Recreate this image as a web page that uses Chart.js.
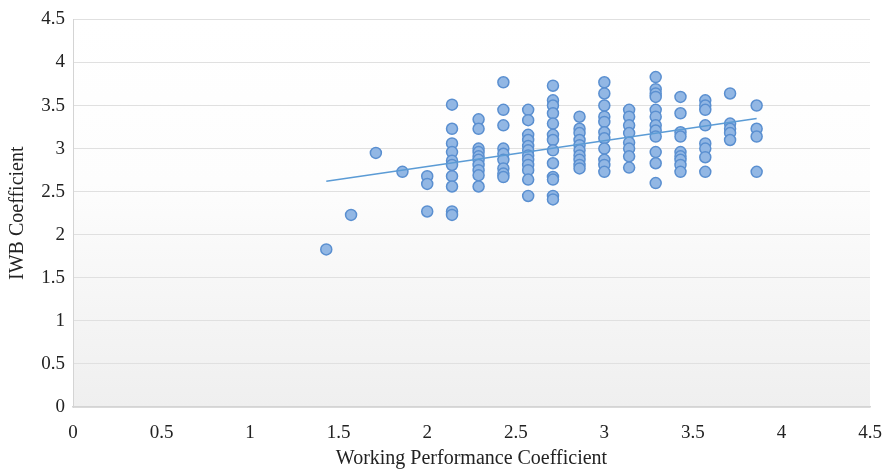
<!DOCTYPE html>
<html>
<head>
<meta charset="utf-8">
<script src="https://cdn.jsdelivr.net/npm/chart.js@4/dist/chart.umd.min.js"></script>
<style>
  html, body { margin: 0; padding: 0; background: #fff; }
  #wrap { width: 888px; height: 469px; position: relative; }
</style>
</head>
<body>
<div id="wrap"><canvas id="scatterChart"></canvas></div>
<script>
// x levels of Working Performance Coefficient (steps of 1/7)
const xLevels = [1.43, 1.57, 1.71, 1.86, 2.00, 2.14, 2.29, 2.43, 2.57, 2.71, 2.86, 3.00, 3.14, 3.29, 3.43, 3.57, 3.71, 3.86]
// IWB Coefficient values read for each x level
const iwbByLevel = [
    [1.83],
    [2.23],
    [2.95],
    [2.73],
    [2.68, 2.59, 2.27],
    [3.51, 3.23, 3.06, 2.96, 2.86, 2.81, 2.68, 2.56, 2.27, 2.23],
    [3.34, 3.23, 3.00, 2.96, 2.91, 2.87, 2.81, 2.75, 2.69, 2.56],
    [3.77, 3.45, 3.27, 3.00, 2.94, 2.87, 2.77, 2.71, 2.67],
    [3.45, 3.33, 3.16, 3.10, 3.03, 2.98, 2.92, 2.87, 2.81, 2.75, 2.64, 2.45],
    [3.73, 3.56, 3.50, 3.41, 3.29, 3.16, 3.10, 2.98, 2.83, 2.67, 2.64, 2.45, 2.41],
    [3.37, 3.23, 3.18, 3.10, 3.04, 2.98, 2.92, 2.87, 2.81, 2.77],
    [3.77, 3.64, 3.50, 3.37, 3.31, 3.19, 3.12, 3.00, 2.87, 2.81, 2.73],
    [3.45, 3.37, 3.27, 3.18, 3.07, 3.00, 2.91, 2.78],
    [3.83, 3.69, 3.64, 3.60, 3.45, 3.37, 3.27, 3.21, 3.14, 2.96, 2.83, 2.60],
    [3.60, 3.41, 3.19, 3.14, 2.96, 2.91, 2.87, 2.81, 2.73],
    [3.56, 3.50, 3.45, 3.27, 3.06, 3.00, 2.90, 2.73],
    [3.64, 3.29, 3.23, 3.18, 3.10],
    [3.50, 3.23, 3.14, 2.73]
]
// linear trendline end points
const trendX = [1.43, 3.86]
const trendY = [2.62, 3.35]

const points = []
xLevels.forEach((x, i) => {
    iwbByLevel[i].forEach(y => points.push({x: x, y: y}))
})
const trend = trendX.map((x, i) => ({x: x, y: trendY[i]}))

// gradient fill behind the plot area
const plotBackground = {
    id: 'plotBackground',
    beforeDraw(chart) {
        const {ctx, chartArea: a} = chart
        const g = ctx.createLinearGradient(0, a.top, 0, a.bottom)
        g.addColorStop(0, '#ffffff')
        g.addColorStop(0.42, '#fdfdfd')
        g.addColorStop(1, '#efefef')
        ctx.save()
        ctx.fillStyle = g
        ctx.fillRect(a.left, a.top, a.right - a.left, a.bottom - a.top)
        ctx.restore()
    }
}

const font = {family: "'Liberation Serif', 'Times New Roman', serif", size: 19}
const plainNumber = v => String(v)

new Chart(document.getElementById('scatterChart'), {
    type: 'scatter',
    data: {
        datasets: [{
            type: 'line',
            data: trend,
            borderColor: '#5b9bd5',
            borderWidth: 1.5,
            pointRadius: 0,
            fill: false
        }, {
            data: points,
            backgroundColor: 'rgb(146,183,228)',
            borderColor: '#5a8fd0',
            borderWidth: 1.5,
            pointRadius: 5.5
        }]
    },
    options: {
        responsive: true,
        maintainAspectRatio: false,
        animation: false,
        layout: {padding: {top: 18, right: 18, left: 0, bottom: 0}},
        plugins: {legend: {display: false}, tooltip: {enabled: false}},
        scales: {
            x: {
                type: 'linear',
                min: 0, max: 4.5,
                ticks: {stepSize: 0.5, color: '#222', font: font, padding: 4, callback: plainNumber},
                grid: {display: false, drawTicks: true, tickLength: 11},
                border: {display: true, color: '#d4d4d4', width: 1.5},
                title: {display: true, text: 'Working Performance Coefficient', color: '#222',
                        font: {family: font.family, size: 20, lineHeight: 1.05}, padding: {top: 0, bottom: 0}},
                afterFit(scale) { scale.height = 62 }
            },
            y: {
                min: 0, max: 4.5,
                ticks: {stepSize: 0.5, color: '#222', font: font, padding: 8, callback: plainNumber},
                grid: {color: '#e0e0e0', drawTicks: false},
                border: {display: true, color: '#d4d4d4'},
                title: {display: true, text: 'IWB Coefficient', color: '#222',
                        font: {family: font.family, size: 20}, padding: {top: 6, bottom: 0}},
                afterFit(scale) { scale.width = 73 }
            }
        }
    },
    plugins: [plotBackground]
})
</script>
</body>
</html>
